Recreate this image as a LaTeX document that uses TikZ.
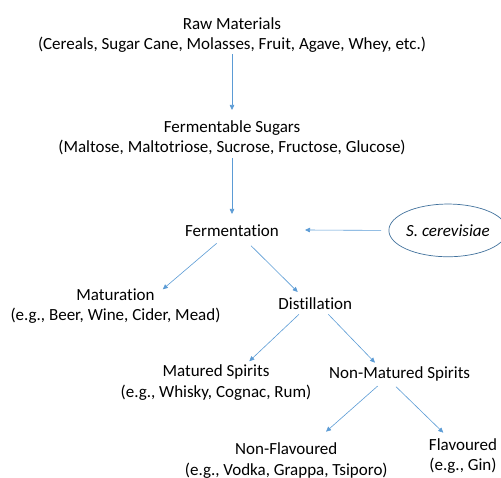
\documentclass[tikz,border=0pt]{standalone}
\usepackage{fontspec}
\setmainfont[Ligatures=NoCommon]{Carlito}
\usetikzlibrary{shapes.geometric,arrows.meta,calc}
\definecolor{arr}{RGB}{91,155,213}
\definecolor{ell}{RGB}{65,113,156}
\begin{document}
\begin{tikzpicture}[x=1pt,y=-1pt,
  lbl/.style={inner sep=0pt,align=center,font=\fontsize{17}{20.3}\selectfont},
  conn/.style={draw=arr,line width=0.6pt,-{Triangle[length=5pt,width=4.5pt]}}]
\useasboundingbox (0,0) rectangle (501,478);
\node[lbl] (raw) at (232,35) {Raw Materials\\(Cereals, Sugar Cane, Molasses, Fruit, Agave, Whey, etc.)};
\node[lbl] (sug) at (232,137.5) {Fermentable Sugars\\(Maltose, Maltotriose, Sucrose, Fructose, Glucose)};
\node[lbl] (fer) at (232,230.5) {Fermentation};
\node[lbl,draw=ell,line width=0.7pt,ellipse,minimum width=112.6pt,minimum height=52.7pt,font=\fontsize{17}{20.3}\selectfont\itshape] (sc) at (448,230.4) {S. cerevisiae};
\node[lbl] (mat) at (115.5,306) {Maturation\\(e.g., Beer, Wine, Cider, Mead)};
\node[lbl] (dis) at (315.3,304) {Distillation};
\node[lbl] (ms) at (216,382.5) {Matured Spirits\\(e.g., Whisky, Cognac, Rum)};
\node[lbl] (nms) at (399.7,373.5) {Non-Matured Spirits};
\node[lbl] (nf) at (286.3,460.5) {Non-Flavoured\\(e.g., Vodka, Grappa, Tsiporo)};
\node[lbl] (fl) at (463,456) {Flavoured\\(e.g., Gin)};
\path[conn] ($(raw)+(0,19.2)$) -- ($(sug)+(0,-27.5)$);
\path[conn] ($(sug)+(0,20.5)$) -- ($(fer)+(0,-16.5)$);
\path[conn] ($(sc)+(-67,0)$) -- ($(fer)+(73,-0.5)$);
\path[conn] ($(fer)+(-15.3,12.8)$) -- ($(mat)+(47.3,-16.7)$);
\path[conn] ($(fer)+(19,15.2)$) -- ($(dis)+(-17.6,-12)$);
\path[conn] ($(dis)+(-16.3,10.3)$) -- ($(ms)+(33.3,-21.3)$);
\path[conn] ($(dis)+(13,10.3)$) -- ($(nms)+(-24.7,-10.8)$);
\path[conn] ($(nms)+(-22,12.5)$) -- ($(nf)+(39.7,-28.8)$);
\path[conn] ($(nms)+(-3.7,13.2)$) -- ($(fl)+(-19.7,-23.3)$);
\end{tikzpicture}
\end{document}
